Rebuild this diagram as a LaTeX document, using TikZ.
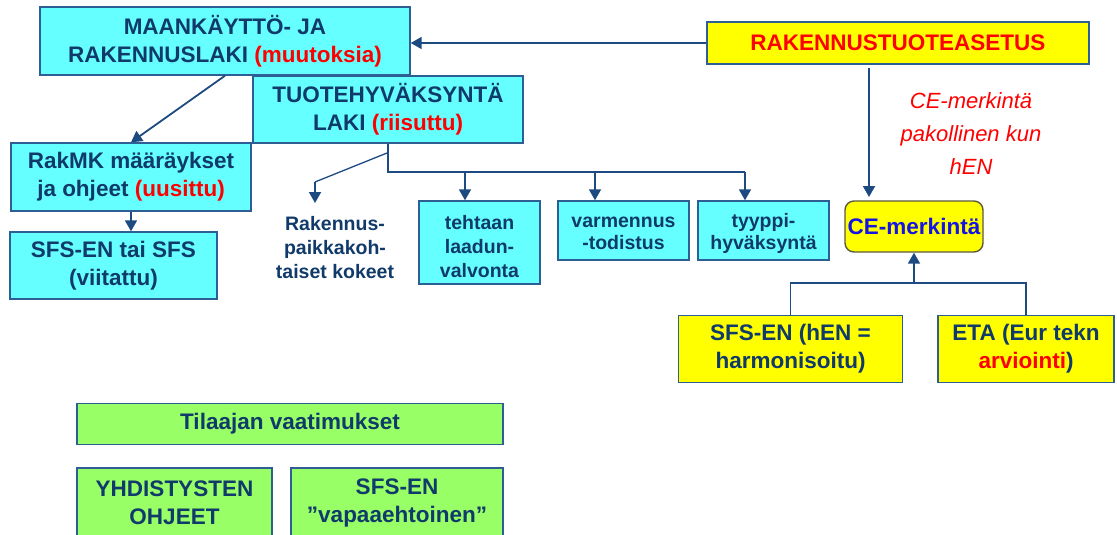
\documentclass[tikz,border=0pt]{standalone}
\usepackage{fontspec}
\setmainfont{Liberation Sans}
\usetikzlibrary{arrows.meta}
\definecolor{cyanfill}{HTML}{66FFFF}
\definecolor{yellowfill}{HTML}{FFFF00}
\definecolor{greenfill}{HTML}{99FF66}
\definecolor{boxedge}{HTML}{2E5F94}
\definecolor{navytext}{HTML}{103A6A}
\definecolor{linkblue}{HTML}{1D4A80}
\definecolor{alertred}{HTML}{FF0000}
\definecolor{ceblue}{HTML}{1414E6}
\definecolor{ceedge}{HTML}{5A5A40}
\begin{document}
\begin{tikzpicture}[x=1pt,y=-1pt,
  box/.style={draw=boxedge,line width=1.4pt,inner sep=0pt,align=center,
    text=navytext,font=\fontsize{22.5}{28}\selectfont\bfseries},
  smallfont/.style={font=\fontsize{19.5}{24}\selectfont\bfseries},
  cyanbox/.style={box,fill=cyanfill},
  cyansmall/.style={cyanbox,smallfont},
  yelbox/.style={box,fill=yellowfill},
  greenbox/.style={box,fill=greenfill},
  cebox/.style={box,fill=yellowfill,draw=ceedge,rounded corners=9pt,text=ceblue},
  plaintext/.style={inner sep=0pt,align=center,text=navytext,smallfont},
  notetext/.style={inner sep=0pt,align=center,text=alertred,
    font=\fontsize{22}{33}\selectfont\itshape},
  link/.style={draw=linkblue,line width=1.8pt},
  thinlink/.style={draw=linkblue,line width=1.3pt},
  arrow/.style={link,-{Triangle[width=12pt,length=11pt]}},
]
\useasboundingbox (0,0) rectangle (1117,535);
\clip (0,0) rectangle (1117,535);

% laws and regulations
\node[cyanbox,minimum width=370pt,minimum height=68pt] (mrl) at (225,41)
  {MAANKÄYTTÖ- JA\\RAKENNUSLAKI \textcolor{alertred}{(muutoksia)}};
\node[yelbox,text=alertred,minimum width=382pt,minimum height=42pt] (rta) at (898,43)
  {RAKENNUSTUOTEASETUS};
\node[cyanbox,minimum width=270pt,minimum height=67pt] (tuote) at (388,109.5)
  {TUOTEHYVÄKSYNTÄ\\LAKI \textcolor{alertred}{(riisuttu)}};
\node[cyanbox,minimum width=240pt,minimum height=68pt] (rakmk) at (131,177)
  {RakMK määräykset\\ja ohjeet \textcolor{alertred}{(uusittu)}};
\node[cyanbox,minimum width=207pt,minimum height=67pt] (sfs) at (113.5,265.5)
  {SFS-EN tai SFS\\(viitattu)};

% approval routes: boxes, then their texts set a little below centre
\node[plaintext] (rak) at (335,248) {Rakennus-\\paikkakoh-\\taiset kokeet};
\node[cyansmall,minimum width=121pt,minimum height=83pt] (teh) at (479.5,242.5) {};
\node[cyansmall,minimum width=131pt,minimum height=59pt] (var) at (623.5,230.5) {};
\node[cyansmall,minimum width=131pt,minimum height=59pt] (tyy) at (763.5,230.5) {};
\node[plaintext] (teh-t) at ([yshift=-4pt]teh.center) {tehtaan\\laadun-\\valvonta};
\node[plaintext,font=\fontsize{19.5}{22.5}\selectfont\bfseries] (var-t)
  at ([yshift=-3pt]var.center) {varmennus\\-todistus};
\node[plaintext,font=\fontsize{19.5}{22.5}\selectfont\bfseries] (tyy-t)
  at ([yshift=-3pt]tyy.center) {tyyppi-\\hyväksyntä};

% CE marking
\node[cebox,minimum width=138pt,minimum height=51pt] (ce) at (914,226.5) {CE-merkintä};
\node[notetext] (note) at (971,134) {CE-merkintä\\pakollinen kun\\hEN};
\node[yelbox,minimum width=224pt,minimum height=67pt] (hen) at (790.5,349)
  {SFS-EN (hEN =\\harmonisoitu)};
\node[yelbox,minimum width=176pt,minimum height=67pt] (eta) at (1026,349)
  {ETA (Eur tekn\\\textcolor{alertred}{arviointi})};

% client side
\node[greenbox,minimum width=426pt,minimum height=41pt] (til) at (290,424)
  {Tilaajan vaatimukset};
\node[greenbox,minimum width=195pt,minimum height=70pt] (yhd) at (174.5,503)
  {YHDISTYSTEN\\OHJEET};
\node[greenbox,minimum width=212pt,minimum height=70pt] (vap) at (397,503)
  {SFS-EN\\”vapaaehtoinen”};

% connectors
\draw[arrow] (rta.west) -- (rta.west -| mrl.east);
\draw[arrow] (mrl.south) -- (rakmk.north);
\draw[arrow] (rakmk.south) -- (rakmk.south |- sfs.north);

\coordinate (bus1) at (465,172);
\coordinate (bus2) at (595,172);
\coordinate (bus3) at (745,172);
\draw[link] (tuote.south) |- (bus3);
\draw[arrow] (bus1) -- (bus1 |- teh.north);
\draw[arrow] (bus2) -- (bus2 |- var.north);
\draw[arrow] (bus3) -- (bus3 |- tyy.north);

\coordinate (br1) at (387,153);
\coordinate (br2) at (315,182);
\coordinate (br3) at (315,203);
\draw[thinlink] (br1) -- (br2);
\draw[arrow] (br2) -- (br3);

\coordinate (ce1) at (869,68);
\coordinate (ce2) at (869,197);
\draw[arrow] (ce1) -- (ce2);

\coordinate (bus4) at (914,283);
\draw[link] (hen.north) |- (bus4) -| (eta.north);
\draw[arrow] (bus4) -- (ce.south);
\end{tikzpicture}
\end{document}
